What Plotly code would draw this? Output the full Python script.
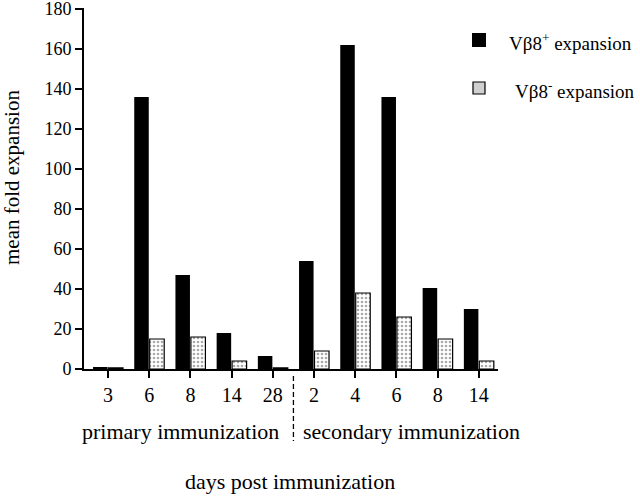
import plotly.graph_objects as go

categories = ["p3", "p6", "p8", "p14", "p28", "s2", "s4", "s6", "s8", "s14"]
tick_labels = ["3", "6", "8", "14", "28", "2", "4", "6", "8", "14"]
vb8_pos = [1, 136, 47, 18, 6.5, 54, 162, 136, 40.5, 30]
vb8_neg = [0.6, 15, 16, 4, 0.6, 9, 38, 26, 15, 4]
y_ticks = [0, 20, 40, 60, 80, 100, 120, 140, 160, 180]

FONT = "Liberation Serif"
L, R, T, B = 84, 142, 8, 127
W, H = 640, 496
PW, PH = W - L - R, H - T - B
YMAX = 180.5


def px(x):
    return (x - L) / PW


def py(y):
    return (H - B - y) / PH


fig = go.Figure()
fig.add_trace(go.Bar(
    x=categories, y=vb8_pos, name="Vβ8+ expansion",
    marker=dict(color="black", line=dict(width=0)),
))
fig.add_trace(go.Bar(
    x=categories, y=vb8_neg, name="Vβ8- expansion",
    marker=dict(color="white", line=dict(color="black", width=1.2),
                pattern=dict(shape=".", size=4, solidity=0.35,
                             fgcolor="#555", bgcolor="white")),
))

fig.update_layout(
    width=W, height=H, autosize=False,
    margin=dict(l=L, r=R, t=T, b=B, pad=0, autoexpand=False),
    paper_bgcolor="white", plot_bgcolor="white",
    barmode="group", bargap=0.25, bargroupgap=0.06,
    showlegend=False,
    font=dict(family=FONT, color="black", size=17),
    xaxis=dict(
        type="category", range=[-0.583, 9.465],
        tickvals=categories, ticktext=tick_labels,
        automargin=False,
        showline=True, linecolor="black", linewidth=2,
        ticks="outside", ticklen=7, tickwidth=1.5, tickcolor="black",
        tickfont=dict(family=FONT, size=20, color="black"),
        showgrid=False, zeroline=False,
    ),
    yaxis=dict(
        range=[0, YMAX], tickmode="array", tickvals=y_ticks,
        ticktext=[str(v) for v in y_ticks],
        ticklabeloverflow="allow", automargin=False,
        showline=True, linecolor="black", linewidth=2,
        ticks="outside", ticklen=7, tickwidth=1.5, tickcolor="black",
        tickfont=dict(family=FONT, size=18, color="black"),
        showgrid=False, zeroline=False,
    ),
)

# dashed divider between primary and secondary
fig.add_shape(type="line", xref="x", yref="paper", x0=4.5, x1=4.5,
              y0=py(376), y1=py(441),
              line=dict(color="black", width=1.3, dash="5px,3px"))

ann = []
ann.append(dict(text="primary immunization", x=px(180), y=py(432)))
ann.append(dict(text="secondary immunization", x=px(411), y=py(432)))
ann.append(dict(text="days post immunization", x=px(290), y=py(482)))
for a in ann:
    fig.add_annotation(xref="paper", yref="paper", showarrow=False,
                       xanchor="center", yanchor="middle",
                       font=dict(family=FONT, size=22), **a)
fig.add_annotation(text="mean fold expansion", xref="paper", yref="paper",
                   x=px(12), y=py(178), textangle=-90, showarrow=False,
                   xanchor="center", yanchor="middle",
                   font=dict(family=FONT, size=21))

# legend
fig.add_shape(type="rect", xref="paper", yref="paper",
              x0=px(472), x1=px(486), y0=py(47), y1=py(33),
              fillcolor="black", line=dict(width=0))
fig.add_shape(type="rect", xref="paper", yref="paper",
              x0=px(473), x1=px(485), y0=py(94), y1=py(82),
              fillcolor="#d0d0d0", line=dict(color="black", width=1.2))
fig.add_annotation(text="Vβ8<sup>+</sup> expansion", xref="paper", yref="paper",
                   x=px(507), y=py(42), xanchor="left", yanchor="middle",
                   showarrow=False, font=dict(family=FONT, size=19))
fig.add_annotation(text="Vβ8<sup>-</sup> expansion", xref="paper", yref="paper",
                   x=px(513), y=py(90), xanchor="left", yanchor="middle",
                   showarrow=False, font=dict(family=FONT, size=19))

fig.write_html("out.html", config={"displayModeBar": False},
               post_script="document.body.style.margin='0';document.body.style.padding='0';")
